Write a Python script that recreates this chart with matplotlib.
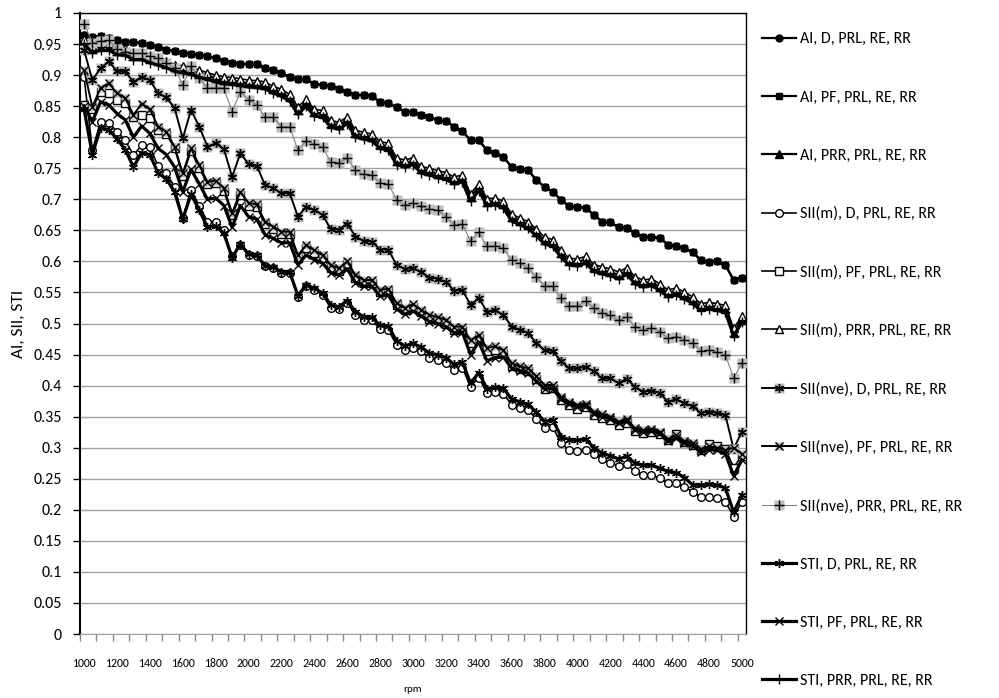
import matplotlib
matplotlib.use("Agg")
import matplotlib.pyplot as plt
from matplotlib.ticker import FixedLocator, FuncFormatter

plt.rcParams['font.family'] = ['Carlito', 'Lato', 'DejaVu Sans']

# rpm categories (50 rpm steps)
rpm = list(range(1000, 5001, 50))

ai_pf = [0.965, 0.962, 0.963, 0.959, 0.957, 0.954, 0.954, 0.951, 0.948, 0.946,
         0.941, 0.939, 0.936, 0.934, 0.932, 0.930, 0.927, 0.923, 0.920, 0.918,
         0.918, 0.918, 0.911, 0.908, 0.903, 0.897, 0.894, 0.893, 0.886, 0.884,
         0.883, 0.877, 0.873, 0.868, 0.868, 0.867, 0.856, 0.855, 0.848, 0.841,
         0.841, 0.836, 0.833, 0.827, 0.826, 0.817, 0.810, 0.795, 0.795, 0.779,
         0.775, 0.768, 0.752, 0.748, 0.747, 0.731, 0.720, 0.712, 0.699, 0.689,
         0.688, 0.686, 0.675, 0.664, 0.663, 0.655, 0.654, 0.645, 0.640, 0.639,
         0.638, 0.627, 0.625, 0.621, 0.615, 0.602, 0.599, 0.601, 0.594, 0.570,
         0.574]
# AI with D lies under the PF curve
ai_d = ai_pf

ai_prr = [0.953, 0.942, 0.946, 0.946, 0.939, 0.938, 0.931, 0.931, 0.926, 0.922,
          0.918, 0.912, 0.910, 0.907, 0.903, 0.899, 0.895, 0.892, 0.891, 0.889,
          0.887, 0.886, 0.884, 0.877, 0.872, 0.864, 0.843, 0.856, 0.840, 0.838,
          0.822, 0.819, 0.828, 0.806, 0.803, 0.800, 0.788, 0.785, 0.762, 0.758,
          0.762, 0.748, 0.745, 0.741, 0.738, 0.731, 0.734, 0.704, 0.720, 0.696,
          0.697, 0.692, 0.671, 0.665, 0.659, 0.647, 0.634, 0.630, 0.613, 0.600,
          0.599, 0.603, 0.590, 0.586, 0.583, 0.578, 0.585, 0.570, 0.565, 0.567,
          0.559, 0.549, 0.552, 0.546, 0.538, 0.527, 0.529, 0.527, 0.524, 0.485,
          0.506]

sii_m_d = [0.897, 0.779, 0.825, 0.823, 0.809, 0.795, 0.771, 0.787, 0.785, 0.753,
           0.742, 0.720, 0.670, 0.715, 0.690, 0.664, 0.664, 0.650, 0.608, 0.626,
           0.610, 0.608, 0.592, 0.589, 0.581, 0.581, 0.543, 0.560, 0.554, 0.546,
           0.525, 0.523, 0.533, 0.514, 0.506, 0.505, 0.491, 0.490, 0.465, 0.457,
           0.461, 0.455, 0.444, 0.442, 0.436, 0.425, 0.429, 0.398, 0.413, 0.388,
           0.389, 0.387, 0.369, 0.364, 0.360, 0.347, 0.331, 0.333, 0.307, 0.296,
           0.295, 0.297, 0.290, 0.282, 0.276, 0.271, 0.273, 0.262, 0.256, 0.256,
           0.251, 0.243, 0.243, 0.237, 0.229, 0.221, 0.221, 0.219, 0.213, 0.189,
           0.213]

sii_m_pf = [0.852, 0.846, 0.873, 0.871, 0.860, 0.855, 0.833, 0.836, 0.831, 0.812,
            0.805, 0.782, 0.738, 0.778, 0.750, 0.725, 0.726, 0.713, 0.674, 0.707,
            0.690, 0.688, 0.660, 0.652, 0.644, 0.644, 0.606, 0.622, 0.614, 0.606,
            0.590, 0.585, 0.596, 0.574, 0.566, 0.566, 0.550, 0.552, 0.529, 0.521,
            0.527, 0.518, 0.508, 0.505, 0.500, 0.490, 0.490, 0.468, 0.476, 0.456,
            0.458, 0.452, 0.431, 0.426, 0.423, 0.410, 0.395, 0.396, 0.377, 0.368,
            0.362, 0.365, 0.352, 0.348, 0.344, 0.337, 0.340, 0.327, 0.324, 0.325,
            0.322, 0.312, 0.322, 0.309, 0.305, 0.297, 0.306, 0.302, 0.298, 0.268,
            0.287]

sii_m_prr = [0.958, 0.947, 0.951, 0.951, 0.944, 0.943, 0.936, 0.936, 0.931, 0.927,
             0.923, 0.917, 0.915, 0.912, 0.908, 0.904, 0.900, 0.897, 0.896, 0.894,
             0.892, 0.891, 0.889, 0.882, 0.877, 0.869, 0.849, 0.861, 0.845, 0.843,
             0.827, 0.824, 0.833, 0.811, 0.808, 0.805, 0.793, 0.790, 0.767, 0.763,
             0.767, 0.753, 0.750, 0.746, 0.743, 0.736, 0.739, 0.709, 0.725, 0.701,
             0.702, 0.697, 0.676, 0.670, 0.664, 0.652, 0.639, 0.635, 0.618, 0.605,
             0.604, 0.608, 0.595, 0.591, 0.588, 0.583, 0.590, 0.575, 0.570, 0.572,
             0.564, 0.554, 0.557, 0.551, 0.543, 0.532, 0.534, 0.532, 0.529, 0.492,
             0.512]

sii_nve_d = [0.940, 0.892, 0.911, 0.922, 0.906, 0.906, 0.889, 0.897, 0.892, 0.871,
             0.864, 0.847, 0.798, 0.844, 0.817, 0.785, 0.790, 0.781, 0.736, 0.774,
             0.757, 0.754, 0.723, 0.718, 0.710, 0.710, 0.672, 0.688, 0.683, 0.675,
             0.652, 0.651, 0.661, 0.640, 0.633, 0.632, 0.619, 0.619, 0.594, 0.588,
             0.589, 0.583, 0.574, 0.572, 0.567, 0.553, 0.554, 0.530, 0.541, 0.519,
             0.521, 0.514, 0.495, 0.490, 0.485, 0.468, 0.457, 0.456, 0.439, 0.428,
             0.428, 0.430, 0.423, 0.412, 0.412, 0.404, 0.411, 0.398, 0.390, 0.392,
             0.388, 0.374, 0.378, 0.372, 0.367, 0.356, 0.358, 0.356, 0.352, 0.298,
             0.326]

sii_nve_pf = [0.908, 0.849, 0.879, 0.887, 0.871, 0.863, 0.836, 0.854, 0.845, 0.817,
              0.809, 0.785, 0.742, 0.782, 0.755, 0.728, 0.730, 0.718, 0.678, 0.712,
              0.694, 0.692, 0.664, 0.656, 0.648, 0.648, 0.610, 0.626, 0.618, 0.610,
              0.594, 0.589, 0.600, 0.578, 0.570, 0.570, 0.554, 0.556, 0.533, 0.525,
              0.531, 0.522, 0.514, 0.510, 0.506, 0.495, 0.495, 0.473, 0.481, 0.461,
              0.463, 0.457, 0.436, 0.431, 0.428, 0.415, 0.401, 0.401, 0.382, 0.374,
              0.369, 0.371, 0.358, 0.354, 0.350, 0.342, 0.346, 0.331, 0.328, 0.330,
              0.326, 0.314, 0.320, 0.311, 0.308, 0.298, 0.302, 0.300, 0.296, 0.300,
              0.290]

sii_nve_prr = [0.983, 0.952, 0.955, 0.956, 0.942, 0.938, 0.935, 0.935, 0.930, 0.927,
               0.919, 0.912, 0.884, 0.914, 0.895, 0.879, 0.880, 0.879, 0.841, 0.873,
               0.860, 0.852, 0.832, 0.832, 0.817, 0.817, 0.779, 0.794, 0.789, 0.784,
               0.760, 0.759, 0.766, 0.747, 0.740, 0.739, 0.726, 0.725, 0.699, 0.691,
               0.694, 0.689, 0.684, 0.683, 0.672, 0.659, 0.660, 0.633, 0.647, 0.624,
               0.625, 0.621, 0.602, 0.597, 0.589, 0.575, 0.560, 0.560, 0.541, 0.528,
               0.528, 0.536, 0.525, 0.517, 0.513, 0.505, 0.510, 0.494, 0.490, 0.493,
               0.487, 0.476, 0.479, 0.474, 0.469, 0.455, 0.457, 0.454, 0.449, 0.412,
               0.437]

sti_d = [0.845, 0.772, 0.815, 0.812, 0.797, 0.780, 0.752, 0.775, 0.772, 0.742,
         0.733, 0.712, 0.668, 0.708, 0.683, 0.655, 0.657, 0.645, 0.606, 0.628,
         0.612, 0.610, 0.593, 0.591, 0.583, 0.583, 0.545, 0.562, 0.557, 0.549,
         0.530, 0.527, 0.537, 0.519, 0.511, 0.510, 0.497, 0.496, 0.472, 0.464,
         0.468, 0.462, 0.452, 0.450, 0.445, 0.434, 0.438, 0.404, 0.421, 0.395,
         0.397, 0.396, 0.378, 0.374, 0.370, 0.357, 0.342, 0.345, 0.318, 0.313,
         0.312, 0.314, 0.300, 0.291, 0.287, 0.282, 0.286, 0.275, 0.272, 0.272,
         0.267, 0.262, 0.260, 0.252, 0.240, 0.240, 0.241, 0.240, 0.235, 0.196,
         0.224]

sti_pf = [0.850, 0.825, 0.857, 0.852, 0.838, 0.828, 0.800, 0.818, 0.806, 0.782,
          0.772, 0.752, 0.712, 0.748, 0.725, 0.700, 0.702, 0.690, 0.655, 0.690,
          0.672, 0.668, 0.643, 0.637, 0.630, 0.630, 0.595, 0.610, 0.603, 0.597,
          0.582, 0.578, 0.588, 0.566, 0.560, 0.560, 0.544, 0.546, 0.523, 0.515,
          0.520, 0.512, 0.503, 0.500, 0.495, 0.485, 0.486, 0.450, 0.470, 0.440,
          0.445, 0.446, 0.428, 0.424, 0.420, 0.407, 0.395, 0.395, 0.378, 0.370,
          0.366, 0.367, 0.355, 0.350, 0.347, 0.339, 0.343, 0.329, 0.326, 0.327,
          0.323, 0.310, 0.315, 0.307, 0.303, 0.293, 0.297, 0.296, 0.290, 0.255,
          0.280]

sti_prr = [0.950, 0.936, 0.940, 0.940, 0.933, 0.932, 0.925, 0.925, 0.920, 0.916,
           0.912, 0.906, 0.904, 0.901, 0.897, 0.893, 0.889, 0.886, 0.885, 0.883,
           0.881, 0.880, 0.878, 0.871, 0.866, 0.858, 0.837, 0.850, 0.834, 0.832,
           0.816, 0.813, 0.822, 0.800, 0.797, 0.794, 0.782, 0.779, 0.756, 0.752,
           0.756, 0.742, 0.739, 0.735, 0.732, 0.725, 0.728, 0.697, 0.714, 0.690,
           0.691, 0.686, 0.665, 0.659, 0.653, 0.641, 0.628, 0.624, 0.607, 0.594,
           0.593, 0.597, 0.584, 0.580, 0.577, 0.572, 0.579, 0.564, 0.559, 0.561,
           0.553, 0.543, 0.546, 0.540, 0.532, 0.521, 0.523, 0.521, 0.518, 0.480,
           0.502]

labels = ["AI, D, PRL, RE, RR", "AI, PF, PRL, RE, RR", "AI, PRR, PRL, RE, RR",
          "SII(m), D, PRL, RE, RR", "SII(m), PF, PRL, RE, RR", "SII(m), PRR, PRL, RE, RR",
          "SII(nve), D, PRL, RE, RR", "SII(nve), PF, PRL, RE, RR", "SII(nve), PRR, PRL, RE, RR",
          "STI, D, PRL, RE, RR", "STI, PF, PRL, RE, RR", "STI, PRR, PRL, RE, RR"]

series = [ai_d, ai_pf, ai_prr, sii_m_d, sii_m_pf, sii_m_prr,
          sii_nve_d, sii_nve_pf, sii_nve_prr, sti_d, sti_pf, sti_prr]

star = (6, 2, 0)
# (line colour, line width, marker, face, size, gray box behind marker)
styles = [
    ("black", 1.6, "o", "black", 5.0, False),
    ("black", 1.6, "s", "black", 5.0, False),
    ("black", 1.6, "^", "black", 5.5, False),
    ("black", 1.2, "o", "white", 5.5, False),
    ("black", 1.2, "s", "white", 5.5, False),
    ("black", 1.2, "^", "white", 6.0, False),
    ("black", 1.4, star, "none", 6.5, True),
    ("black", 1.4, "x", "none", 5.5, True),
    ("#808080", 0.8, "+", "none", 7.0, True),
    ("black", 2.3, star, "none", 6.5, False),
    ("black", 2.3, "x", "none", 5.5, False),
    ("black", 2.3, "+", "none", 7.0, False),
]

fig = plt.figure(figsize=(9.99, 6.98), dpi=100)
ax = fig.add_axes([80 / 999, 1 - 634 / 698, 666 / 999, 621 / 698])

handles = []
for y, (col, lw, mk, mfc, ms, box) in zip(series, styles):
    parts = []
    if box:
        b, = ax.plot(rpm, y, ls="none", marker="s", ms=ms + 0.5,
                     mfc="#bfbfbf", mec="none", zorder=3)
        parts.append(b)
    ln, = ax.plot(rpm, y, color=col, lw=lw, marker=mk, ms=ms, mfc=mfc,
                  mec="black", mew=1.0, zorder=3)
    parts.append(ln)
    handles.append(tuple(parts))

ax.set_xlim(975, 5025)
ax.set_ylim(0, 1)
ax.yaxis.set_major_locator(FixedLocator([i * 0.05 for i in range(21)]))
ax.yaxis.set_major_formatter(FuncFormatter(lambda v, p: f"{round(v, 2):g}"))
ax.grid(axis="y", color="#a0a0a0", lw=1.0)
ax.set_axisbelow(True)

ax.xaxis.set_major_locator(FixedLocator(list(range(1000, 5001, 200))))
ax.xaxis.set_minor_locator(FixedLocator(list(range(975, 5026, 100))))
ax.tick_params(axis="x", which="major", length=0, pad=17, labelsize=8.5)
ax.tick_params(axis="x", which="minor", length=5, color="#888888", width=1)
ax.tick_params(axis="y", length=5, width=1, labelsize=11.5, pad=8)

for s in ["top", "right"]:
    ax.spines[s].set_linewidth(1.0)
ax.spines["left"].set_linewidth(1.5)
ax.spines["bottom"].set_color("#a0a0a0")

ax.set_ylabel("AI, SII, STI", fontsize=12.5, labelpad=5)
ax.set_xlabel("rpm", fontsize=8, labelpad=12)

fig.legend(handles, labels, loc="upper left", bbox_to_anchor=(762 / 999, 1 - 32 / 698),
           frameon=False, fontsize=11.5, labelspacing=2.76, handlelength=2.1,
           handletextpad=0.25, borderpad=0, borderaxespad=0)

fig.savefig("out.png", dpi=100)
